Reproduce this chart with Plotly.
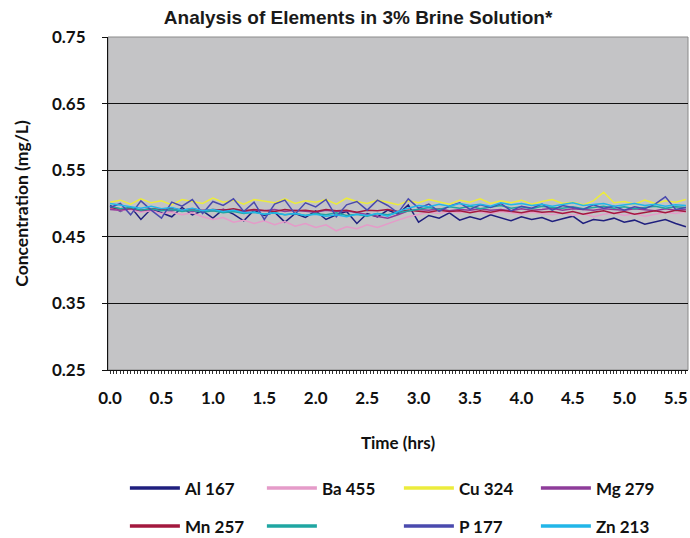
import plotly.graph_objects as go

times = [round(i * 0.1, 1) for i in range(57)]

al_167 = [0.497,0.488,0.495,0.476,0.492,0.486,0.480,0.494,0.483,0.489,
          0.478,0.491,0.484,0.474,0.490,0.482,0.487,0.472,0.485,0.479,
          0.489,0.476,0.483,0.488,0.470,0.485,0.480,0.490,0.484,0.498,
          0.472,0.482,0.478,0.486,0.475,0.480,0.476,0.483,0.478,0.474,
          0.480,0.476,0.479,0.473,0.477,0.481,0.470,0.476,0.474,0.478,
          0.472,0.475,0.469,0.473,0.476,0.470,0.465]
ba_455 = [0.492,0.489,0.491,0.487,0.489,0.485,0.487,0.483,0.486,0.480,
          0.476,0.479,0.472,0.475,0.470,0.474,0.468,0.473,0.466,0.470,
          0.464,0.468,0.459,0.465,0.462,0.468,0.464,0.470,0.475,0.480,
          0.484,0.487,0.485,0.488,0.486,0.489,0.487,0.485,0.488,0.486,
          0.484,0.487,0.485,0.483,0.486,0.482,0.485,0.480,0.484,0.486,
          0.482,0.485,0.481,0.484,0.487,0.485,0.488]
cu_324 = [0.502,0.505,0.499,0.507,0.501,0.504,0.498,0.506,0.503,0.500,
          0.508,0.502,0.505,0.499,0.506,0.503,0.501,0.507,0.500,0.504,
          0.502,0.506,0.499,0.508,0.503,0.500,0.505,0.502,0.498,0.504,
          0.501,0.506,0.503,0.499,0.505,0.502,0.507,0.500,0.504,0.501,
          0.505,0.499,0.503,0.506,0.500,0.502,0.498,0.504,0.517,0.501,
          0.503,0.499,0.505,0.500,0.504,0.502,0.506]
mg_279 = [0.491,0.490,0.492,0.489,0.491,0.490,0.489,0.491,0.488,0.490,
          0.489,0.491,0.490,0.488,0.490,0.489,0.491,0.488,0.490,0.489,
          0.487,0.490,0.488,0.489,0.486,0.484,0.480,0.478,0.483,0.489,
          0.491,0.490,0.492,0.489,0.491,0.490,0.492,0.490,0.491,0.489,
          0.492,0.490,0.491,0.493,0.490,0.492,0.491,0.490,0.492,0.491,
          0.490,0.492,0.491,0.489,0.492,0.490,0.491]
mn_257 = [0.494,0.492,0.493,0.490,0.492,0.491,0.493,0.490,0.492,0.489,
          0.491,0.490,0.492,0.489,0.491,0.490,0.488,0.491,0.489,0.490,
          0.488,0.491,0.489,0.490,0.487,0.490,0.489,0.491,0.488,0.490,
          0.489,0.487,0.490,0.488,0.489,0.486,0.489,0.487,0.490,0.488,
          0.486,0.489,0.487,0.488,0.485,0.488,0.484,0.487,0.489,0.485,
          0.488,0.484,0.487,0.489,0.486,0.490,0.488]
teal = [0.496,0.492,0.494,0.490,0.492,0.489,0.491,0.488,0.490,0.487,
        0.489,0.486,0.488,0.485,0.487,0.484,0.486,0.483,0.485,0.482,
        0.485,0.483,0.486,0.482,0.484,0.481,0.485,0.483,0.486,0.489,
        0.492,0.494,0.491,0.495,0.493,0.496,0.492,0.494,0.497,0.493,
        0.495,0.492,0.496,0.494,0.493,0.495,0.492,0.494,0.496,0.493,
        0.495,0.492,0.494,0.496,0.493,0.495,0.494]
p_177 = [0.494,0.500,0.483,0.504,0.490,0.478,0.502,0.496,0.506,0.485,
         0.503,0.497,0.507,0.488,0.502,0.476,0.499,0.505,0.484,0.501,
         0.495,0.506,0.480,0.498,0.503,0.490,0.505,0.497,0.486,0.507,
         0.493,0.499,0.488,0.496,0.501,0.491,0.498,0.494,0.500,0.489,
         0.496,0.493,0.499,0.490,0.497,0.494,0.491,0.498,0.493,0.496,
         0.490,0.495,0.492,0.499,0.510,0.491,0.494]
zn_213 = [0.500,0.497,0.495,0.493,0.496,0.492,0.494,0.490,0.493,0.489,
          0.491,0.488,0.490,0.486,0.487,0.484,0.486,0.483,0.485,0.482,
          0.484,0.481,0.483,0.480,0.484,0.482,0.485,0.481,0.488,0.493,
          0.497,0.495,0.499,0.496,0.500,0.497,0.499,0.496,0.501,0.498,
          0.500,0.497,0.499,0.496,0.498,0.501,0.497,0.499,0.500,0.496,
          0.498,0.500,0.497,0.499,0.496,0.498,0.497]

series_names = ["Al 167", "Ba 455", "Cu 324", "Mg 279", "Mn 257", " ", "P 177", "Zn 213"]
series_values = [al_167, ba_455, cu_324, mg_279, mn_257, teal, p_177, zn_213]
series_colors = ["#1f1f7e", "#e59bc9", "#ecec3c", "#8e3c9a", "#a3183e", "#1fa6a2", "#4a4aae", "#22b6e8"]
legend_rows = ["legend", "legend", "legend", "legend", "legend2", "legend2", "legend2", "legend2"]

y_ticks = [0.25, 0.35, 0.45, 0.55, 0.65, 0.75]
x_ticks = [0.0, 0.5, 1.0, 1.5, 2.0, 2.5, 3.0, 3.5, 4.0, 4.5, 5.0, 5.5]

fig = go.Figure()
for name, vals, col in zip(series_names, series_values, series_colors):
    fig.add_trace(go.Scatter(x=times, y=vals, name=name, mode="lines", showlegend=False,
                             line=dict(color=col, width=1.5)))
# legend keys (thicker swatches, as in the reference legend)
for name, col, lg in zip(series_names, series_colors, legend_rows):
    fig.add_trace(go.Scatter(x=[None], y=[None], name=name, mode="lines", legend=lg,
                             line=dict(color=col, width=3.5), hoverinfo="skip"))

FONT = "Lato, Open Sans, sans-serif"
tick_font = dict(family=FONT, size=17, color="#111111", weight="bold")
legend_font = dict(family=FONT, size=17, color="#111111", weight="bold")

legend_common = dict(orientation="h", xref="container", yref="container", x=0.181, xanchor="left",
                     yanchor="top", entrywidth=72, entrywidthmode="pixels",
                     font=legend_font, itemwidth=50, tracegroupgap=0, traceorder="normal",
                     bgcolor="rgba(0,0,0,0)")

fig.update_layout(
    width=690, height=538,
    margin=dict(l=108, r=2, t=37, b=168),
    paper_bgcolor="white",
    plot_bgcolor="#c4c4c6",
    title=dict(text="Analysis of Elements in 3% Brine Solution*",
               font=dict(family="Liberation Sans, Arial, sans-serif", size=19, color="#1a1a1a", weight="bold"),
               x=0.519, xanchor="center", xref="container", y=0.968, yanchor="middle", yref="container"),
    xaxis=dict(range=[-0.02, 5.62], tickvals=x_ticks, tickformat=".1f",
               showgrid=False, zeroline=False, showline=True, linecolor="#111111", linewidth=1,
               ticks="", tickfont=tick_font, ticklabelstandoff=13, ticklabeloverflow="allow",
               minor=dict(dtick=0.0333, tick0=0, ticks="outside", ticklen=3, tickcolor="#333333", tickwidth=1),
               title=dict(text="Time (hrs)", font=tick_font, standoff=29)),
    yaxis=dict(range=[0.25, 0.75], tickvals=y_ticks, tickformat=".2f",
               showgrid=True, gridcolor="#111111", gridwidth=1.2, zeroline=False,
               showline=True, linecolor="#111111", linewidth=1,
               ticks="outside", ticklen=5, tickcolor="#111111", tickfont=tick_font, ticklabelstandoff=13,
               title=dict(text="Concentration (mg/L)", font=dict(family=FONT, size=17.5, color="#111111", weight="bold"), standoff=18)),
    legend=dict(**legend_common, y=0.1255),
    legend2=dict(**legend_common, y=0.055),
    shapes=[dict(type="rect", xref="paper", yref="paper", x0=0, x1=1, y0=0, y1=1,
                 line=dict(color="#8a8a8a", width=1), layer="below")],
)

fig.write_html("out.html", config={"displayModeBar": False},
               post_script="document.body.style.margin='0px';")
